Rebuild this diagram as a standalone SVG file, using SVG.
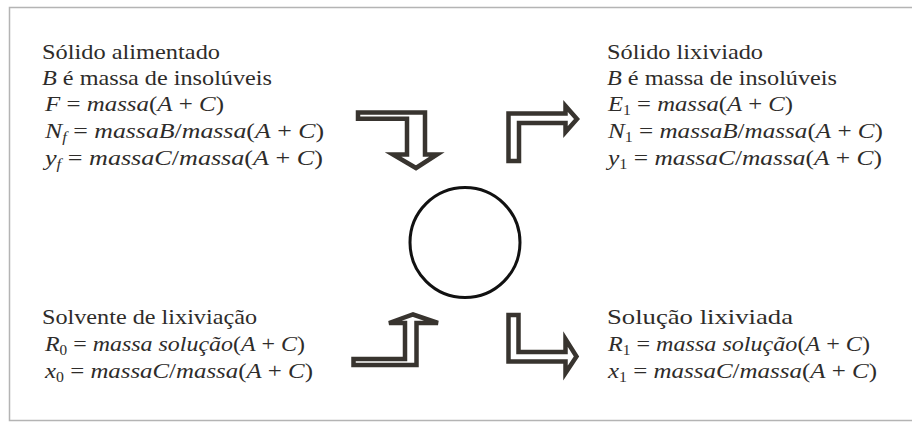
<svg xmlns="http://www.w3.org/2000/svg" width="912" height="423" viewBox="0 0 912 423">
<style>
text{font-family:"Liberation Serif","Times New Roman",serif;font-size:22px;fill:#2e2c2a}
.i{font-style:italic}
.s{font-size:14px;font-style:italic}
.n{font-style:normal}
.arrow{fill:#fff;stroke:#38342f;stroke-width:4.5;stroke-linejoin:miter}
</style>
<rect x="9.5" y="7.5" width="920" height="413" fill="#fff" stroke="#b4b4b4" stroke-width="1.5"/>
<g id="feed">
<text x="42" y="59" textLength="178" lengthAdjust="spacingAndGlyphs">Sólido alimentado</text>
<text x="42" y="85" textLength="230" lengthAdjust="spacingAndGlyphs"><tspan class="i">B</tspan> é massa de insolúveis</text>
<text x="45" y="111" textLength="179" lengthAdjust="spacingAndGlyphs"><tspan class="i">F</tspan> = <tspan class="i">massa</tspan>(<tspan class="i">A</tspan> + <tspan class="i">C</tspan>)</text>
<text x="45" y="138" textLength="279" lengthAdjust="spacingAndGlyphs"><tspan class="i">N</tspan><tspan class="s" dy="4">f</tspan><tspan dy="-4"> = </tspan><tspan class="i">massaB</tspan>/<tspan class="i">massa</tspan>(<tspan class="i">A</tspan> + <tspan class="i">C</tspan>)</text>
<text x="45" y="165" textLength="278" lengthAdjust="spacingAndGlyphs"><tspan class="i">y</tspan><tspan class="s" dy="4">f</tspan><tspan dy="-4"> = </tspan><tspan class="i">massaC</tspan>/<tspan class="i">massa</tspan>(<tspan class="i">A</tspan> + <tspan class="i">C</tspan>)</text>
</g>
<g id="leached-solid">
<text x="607" y="59" textLength="156" lengthAdjust="spacingAndGlyphs">Sólido lixiviado</text>
<text x="607" y="85" textLength="230" lengthAdjust="spacingAndGlyphs"><tspan class="i">B</tspan> é massa de insolúveis</text>
<text x="608" y="111" textLength="185" lengthAdjust="spacingAndGlyphs"><tspan class="i">E</tspan><tspan class="s n" dy="4">1</tspan><tspan dy="-4"> = </tspan><tspan class="i">massa</tspan>(<tspan class="i">A</tspan> + <tspan class="i">C</tspan>)</text>
<text x="608" y="138" textLength="275" lengthAdjust="spacingAndGlyphs"><tspan class="i">N</tspan><tspan class="s n" dy="4">1</tspan><tspan dy="-4"> = </tspan><tspan class="i">massaB</tspan>/<tspan class="i">massa</tspan>(<tspan class="i">A</tspan> + <tspan class="i">C</tspan>)</text>
<text x="608" y="165" textLength="274" lengthAdjust="spacingAndGlyphs"><tspan class="i">y</tspan><tspan class="s n" dy="4">1</tspan><tspan dy="-4"> = </tspan><tspan class="i">massaC</tspan>/<tspan class="i">massa</tspan>(<tspan class="i">A</tspan> + <tspan class="i">C</tspan>)</text>
</g>
<g id="solvent">
<text x="42" y="324" textLength="215" lengthAdjust="spacingAndGlyphs">Solvente de lixiviação</text>
<text x="45" y="351" textLength="260" lengthAdjust="spacingAndGlyphs"><tspan class="i">R</tspan><tspan class="s n" dy="4">0</tspan><tspan dy="-4"> = </tspan><tspan class="i">massa solução</tspan>(<tspan class="i">A</tspan> + <tspan class="i">C</tspan>)</text>
<text x="45" y="378" textLength="268" lengthAdjust="spacingAndGlyphs"><tspan class="i">x</tspan><tspan class="s n" dy="4">0</tspan><tspan dy="-4"> = </tspan><tspan class="i">massaC</tspan>/<tspan class="i">massa</tspan>(<tspan class="i">A</tspan> + <tspan class="i">C</tspan>)</text>
</g>
<g id="leached-solution">
<text x="607" y="324" textLength="186" lengthAdjust="spacingAndGlyphs">Solução lixiviada</text>
<text x="608" y="351" textLength="262" lengthAdjust="spacingAndGlyphs"><tspan class="i">R</tspan><tspan class="s n" dy="4">1</tspan><tspan dy="-4"> = </tspan><tspan class="i">massa solução</tspan>(<tspan class="i">A</tspan> + <tspan class="i">C</tspan>)</text>
<text x="608" y="378" textLength="269" lengthAdjust="spacingAndGlyphs"><tspan class="i">x</tspan><tspan class="s n" dy="4">1</tspan><tspan dy="-4"> = </tspan><tspan class="i">massaC</tspan>/<tspan class="i">massa</tspan>(<tspan class="i">A</tspan> + <tspan class="i">C</tspan>)</text>
</g>
<g id="stage">
<circle cx="465" cy="242.5" r="55" fill="none" stroke="#111" stroke-width="3"/>
</g>
<g id="connectors">
<path class="arrow" d="M358,112.5 L425,112.5 L425,154.5 L437,154.5 L416,168 L393,154.5 L407,154.5 L407,118.7 L358,118.7 Z"/>
<path class="arrow" d="M508.5,161 L508.5,113.5 L565.5,113.5 L565.5,106 L577,119 L565.5,132 L565.5,123 L519,123 L519,161 Z"/>
<path class="arrow" d="M353.5,359 L405,359 L405,323 L389,323 L413,314.5 L438,323 L416.5,323 L416.5,365 L353.5,365 Z"/>
<path class="arrow" d="M508.5,315 L518.5,315 L518.5,352 L565.5,352 L565.5,339 L576.5,356.5 L565.5,373 L565.5,361.5 L508.5,361.5 Z"/>
</g>
</svg>
